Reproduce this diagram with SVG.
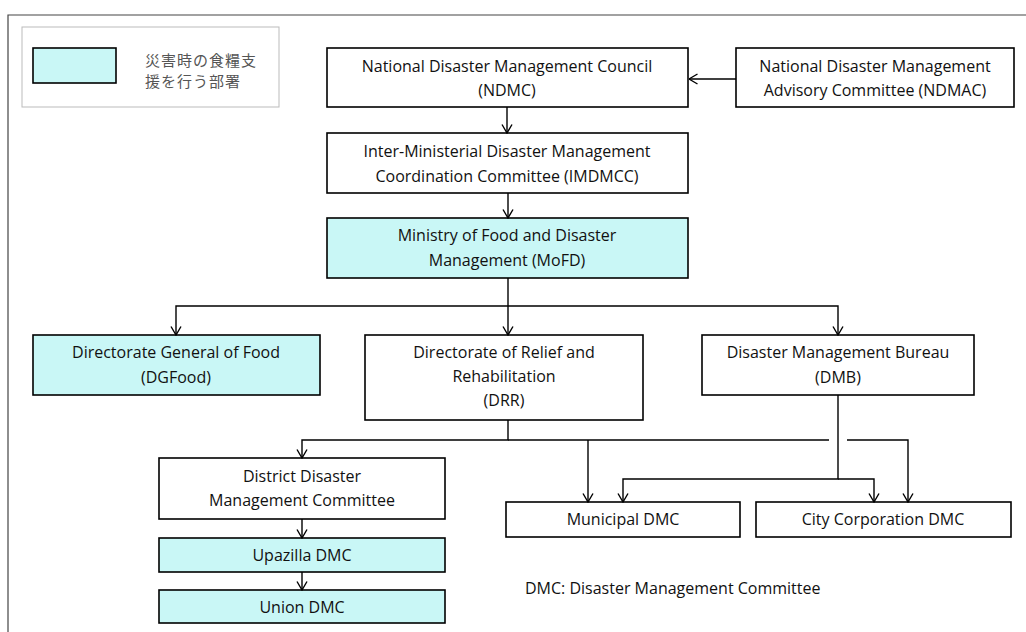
<svg xmlns="http://www.w3.org/2000/svg" width="1026" height="632" viewBox="0 0 1026 632">
<defs>
<marker id="arr" markerUnits="userSpaceOnUse" viewBox="0 0 10 12" refX="9.5" refY="6" markerWidth="10" markerHeight="12" orient="auto">
<path d="M1,1 L9.5,6 L1,11" fill="none" stroke="#000" stroke-width="1.4"/>
</marker>
<style>
.box{fill:#fff;stroke:#000;stroke-width:1.6}
.cy{fill:#c9f7f6;stroke:#000;stroke-width:1.6}
.t{font-family:"Open Sans","Liberation Sans",Arial,sans-serif;font-size:16px;fill:#111;text-anchor:middle}
.c{fill:none;stroke:#000;stroke-width:1.4}
.ca{fill:none;stroke:#000;stroke-width:1.4;marker-end:url(#arr)}
.jp{font-family:"Noto Sans CJK JP",sans-serif;font-size:15px;fill:#555;letter-spacing:1px}
</style>
</defs>
<rect width="1026" height="632" fill="#fff"/>
<path d="M8,632 V15 H1026" fill="none" stroke="#444" stroke-width="1.2"/>
<g id="legend">
<rect x="22" y="27" width="257" height="80" fill="#fff" stroke="#bbb" stroke-width="1"/>
<rect x="33" y="48" width="83" height="35" class="cy"/>
<text class="jp" x="145" y="66">災害時の食糧支</text>
<text class="jp" x="145" y="87">援を行う部署</text>
</g>
<g id="ndmc"><rect x="327" y="48" width="361" height="59" class="box"/>
<text class="t" x="507" y="72">National Disaster Management Council</text>
<text class="t" x="507" y="96">(NDMC)</text></g>
<g id="ndmac"><rect x="736" y="48" width="278" height="59" class="box"/>
<text class="t" x="875" y="72">National Disaster Management</text>
<text class="t" x="875" y="96">Advisory Committee (NDMAC)</text></g>
<g id="imdmcc"><rect x="327" y="133" width="361" height="60" class="box"/>
<text class="t" x="507" y="157">Inter-Ministerial Disaster Management</text>
<text class="t" x="507" y="182">Coordination Committee (IMDMCC)</text></g>
<g id="mofd"><rect x="327" y="218" width="361" height="60" class="cy"/>
<text class="t" x="507" y="241">Ministry of Food and Disaster</text>
<text class="t" x="507" y="266">Management (MoFD)</text></g>
<g id="dgfood"><rect x="33" y="335" width="287" height="60" class="cy"/>
<text class="t" x="176" y="358">Directorate General of Food</text>
<text class="t" x="176" y="383">(DGFood)</text></g>
<g id="drr"><rect x="365" y="335" width="278" height="85" class="box"/>
<text class="t" x="504" y="358">Directorate of Relief and</text>
<text class="t" x="504" y="382">Rehabilitation</text>
<text class="t" x="504" y="406">(DRR)</text></g>
<g id="dmb"><rect x="702" y="335" width="272" height="60" class="box"/>
<text class="t" x="838" y="358">Disaster Management Bureau</text>
<text class="t" x="838" y="383">(DMB)</text></g>
<g id="district"><rect x="159" y="458" width="286" height="61" class="box"/>
<text class="t" x="302" y="482">District Disaster</text>
<text class="t" x="302" y="506">Management Committee</text></g>
<g id="upazilla"><rect x="159" y="538" width="286" height="34" class="cy"/>
<text class="t" x="302" y="561">Upazilla DMC</text></g>
<g id="union"><rect x="159" y="590" width="286" height="33" class="cy"/>
<text class="t" x="302" y="613">Union DMC</text></g>
<g id="municipal"><rect x="506" y="502" width="234" height="35" class="box"/>
<text class="t" x="623" y="525">Municipal DMC</text></g>
<g id="citycorp"><rect x="756" y="502" width="255" height="35" class="box"/>
<text class="t" x="883" y="525">City Corporation DMC</text></g>
<text class="t" x="525" y="594" style="text-anchor:start">DMC: Disaster Management Committee</text>
<g id="connectors">
<path class="ca" d="M507,107 V133"/>
<path class="ca" d="M508,193 V218"/>
<path class="ca" d="M736,79 H689"/>
<path class="ca" d="M508,278 V335"/>
<path class="ca" d="M508,306 H176 V335"/>
<path class="ca" d="M508,306 H838 V335"/>
<path class="ca" d="M508,420 V440 H302 V458"/>
<path class="ca" d="M588,440 V502"/>
<path class="c" d="M508,440 H829"/>
<path class="ca" d="M847,440 H908 V502"/>
<path class="ca" d="M838,395 V479 H623 V502"/>
<path class="ca" d="M838,479 H874 V502"/>
<path class="ca" d="M302,519 V538"/>
<path class="ca" d="M302,572 V590"/>
</g>
</svg>
